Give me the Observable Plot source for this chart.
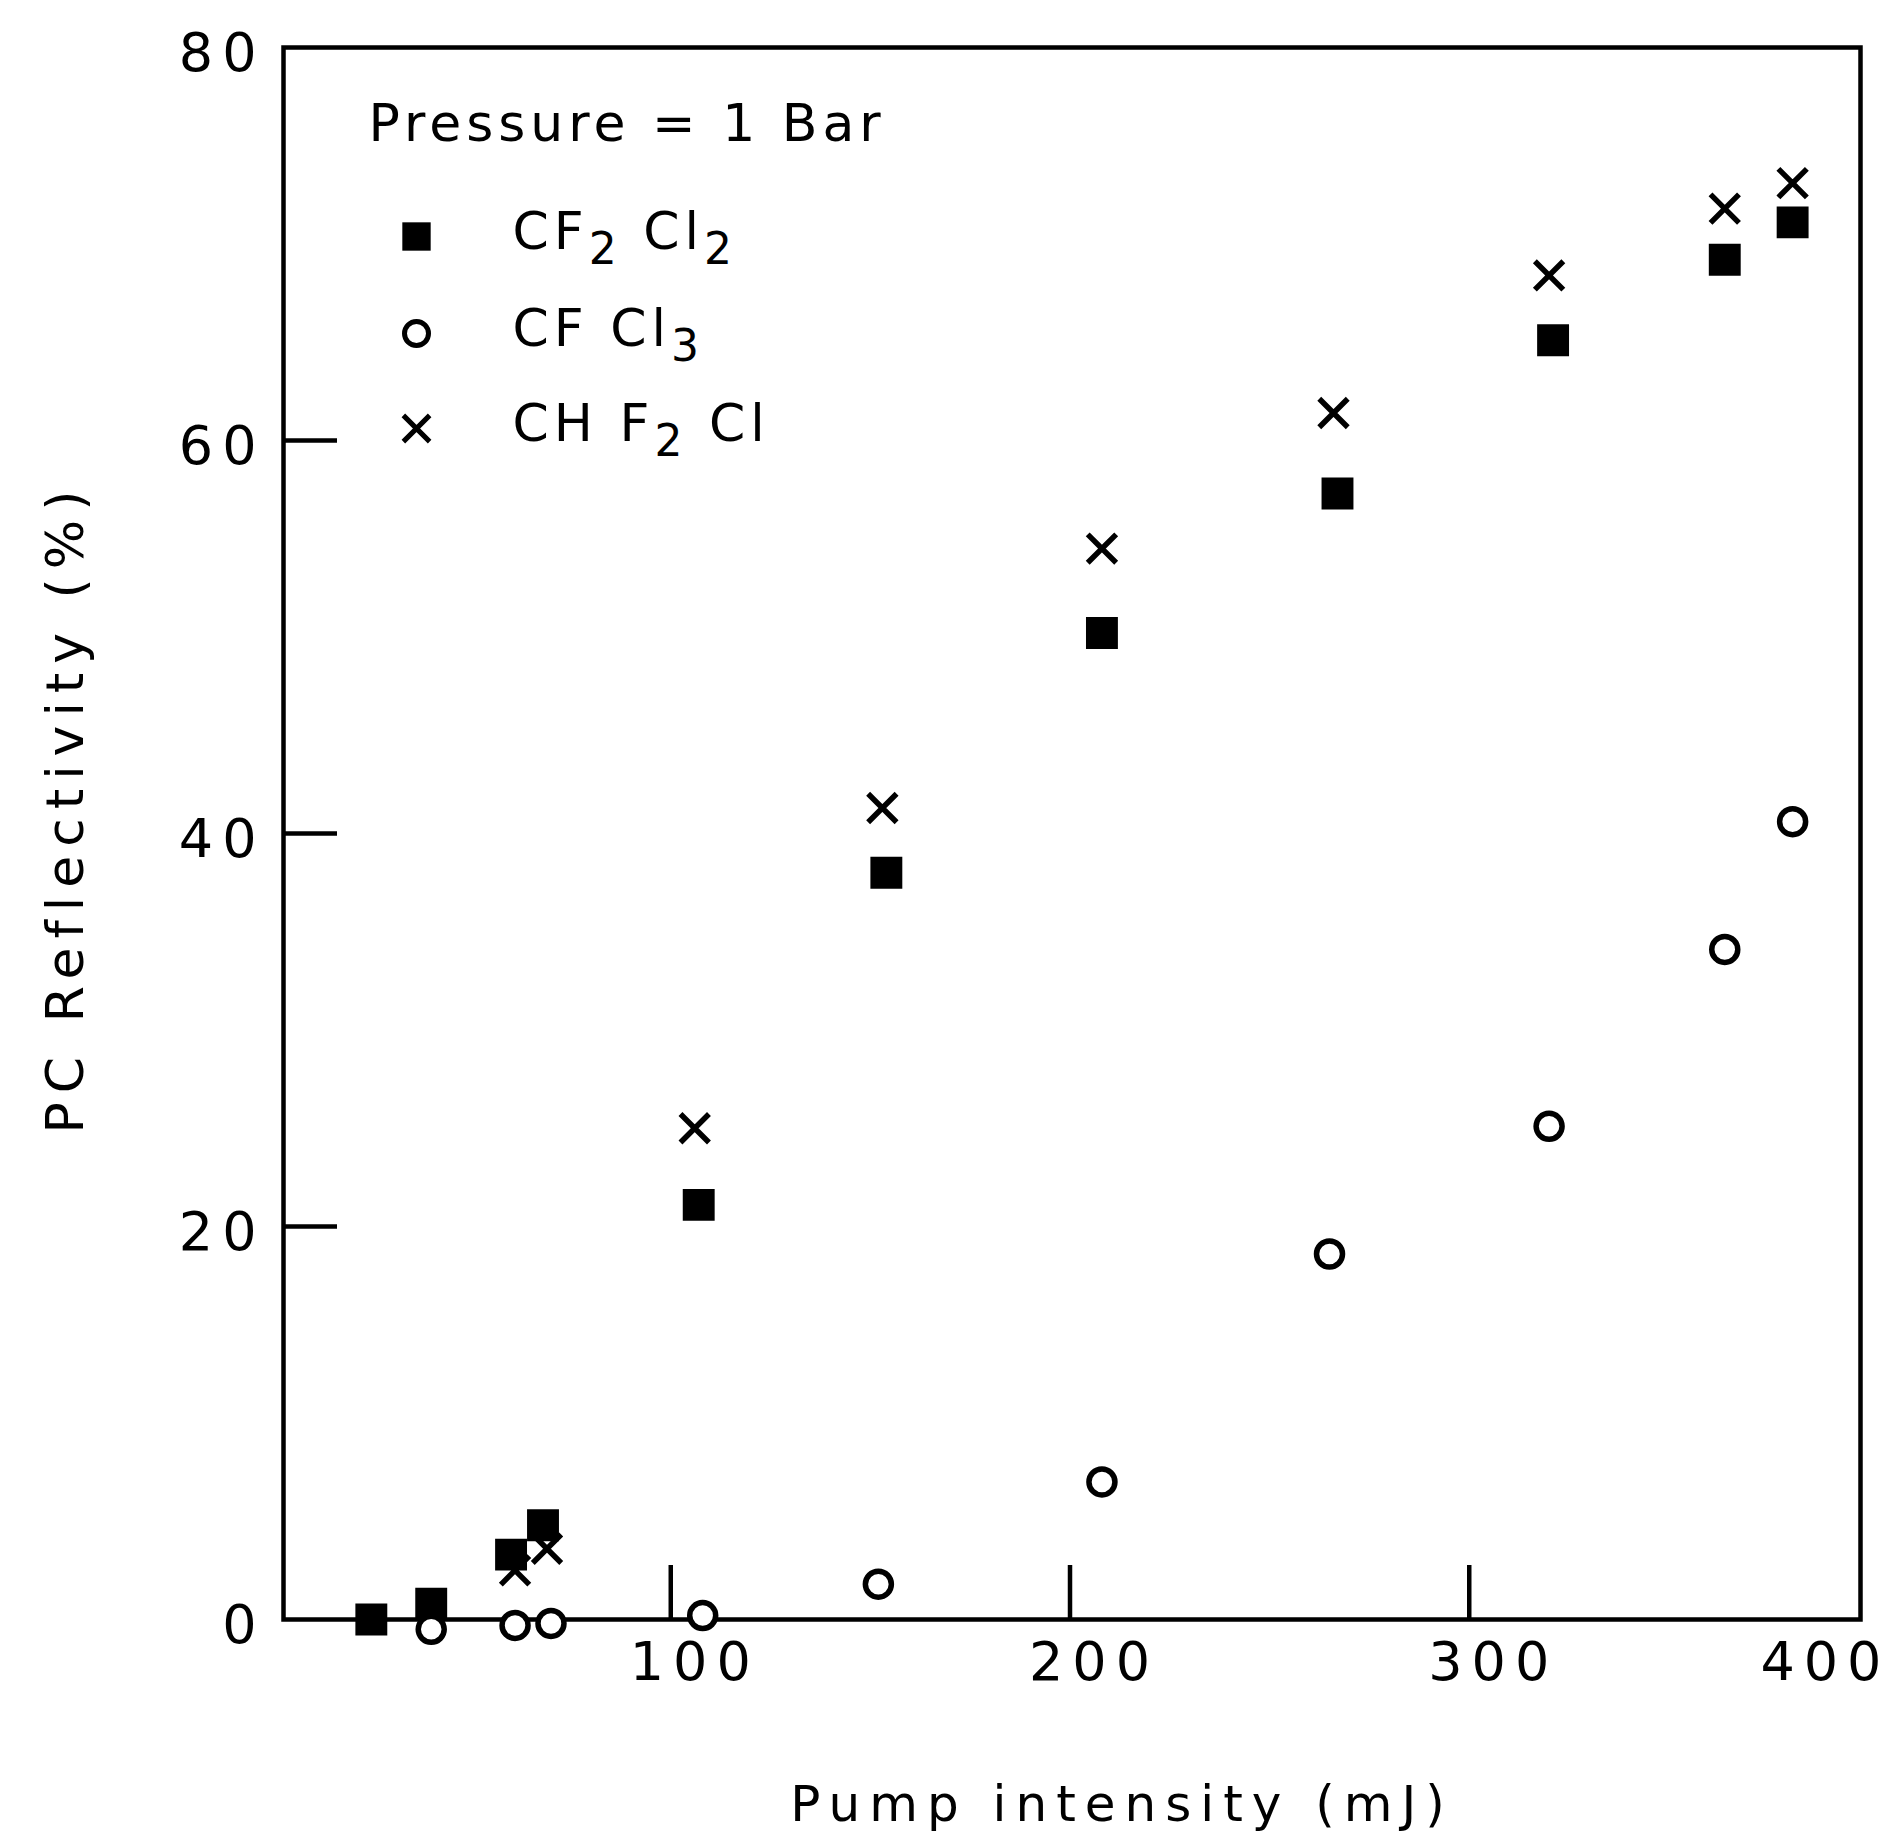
<!DOCTYPE html>
<html>
<head>
<meta charset="utf-8">
<script src="https://cdn.jsdelivr.net/npm/d3@7"></script>
<script src="https://cdn.jsdelivr.net/npm/@observablehq/plot@0.6"></script>
<style>
  body { margin: 0; background: #fff; }
  #chart svg text { letter-spacing: 9px; }
</style>
</head>
<body>
<div id="chart"></div>
<script>
// Pump intensity (mJ) and PC reflectivity (%) per gas
const pumpCF2Cl2 = [25, 40, 60, 68, 107, 154, 208, 267, 321, 364, 381];
const reflCF2Cl2 = [0, 0.8, 3.3, 4.8, 21.1, 38.0, 50.2, 57.3, 65.1, 69.2, 71.1];
const pumpCFCl3 = [40, 61, 70, 108, 152, 208, 265, 320, 364, 381];
const reflCFCl3 = [-0.5, -0.3, -0.2, 0.2, 1.8, 7.0, 18.6, 25.1, 34.1, 40.6];
const pumpCHF2Cl = [61, 69, 106, 153, 208, 266, 320, 364, 381];
const reflCHF2Cl = [2.5, 3.6, 25.0, 41.3, 54.5, 61.4, 68.4, 71.8, 73.1];

const xTicks = [100, 200, 300];
const xEdgeTicks = [400];
const yTicks = [20, 40, 60];
const yTickLabels = [0, 20, 40, 60, 80];

const legendTitle = "Pressure = 1 Bar";
const seriesNames = ["CF₂ Cl₂", "CF Cl₃", "CH F₂ Cl"];
const xTitle = "Pump intensity (mJ)";
const yTitle = "PC Reflectivity (%)";

const toRows = (xs, ys) => xs.map((p, i) => ({pump: p, refl: ys[i]}));
const cf2cl2 = toRows(pumpCF2Cl2, reflCF2Cl2);
const cfcl3 = toRows(pumpCFCl3, reflCFCl3);
const chf2cl = toRows(pumpCHF2Cl, reflCHF2Cl);

const W = 1889, H = 1833;
const mL = 283, mR = 29, mT = 47, mB = 214;
const plotW = W - mL - mR, plotH = H - mT - mB;
const tickLen = 54;

const legendSymbols = [
  {symbol: "square", r: 16, fill: "black", stroke: "none", strokeWidth: 0},
  {symbol: "circle", r: 12, fill: "white", stroke: "black", strokeWidth: 5},
  {symbol: "times", r: 12, fill: "none", stroke: "black", strokeWidth: 5}
];
const legendRowDy = [189, 286, 381];

const legendMarks = [];
seriesNames.forEach((name, i) => {
  const s = legendSymbols[i];
  legendMarks.push(Plot.dot([name], {frameAnchor: "top-left", dx: 133, dy: legendRowDy[i], symbol: s.symbol, r: s.r, fill: s.fill, stroke: s.stroke, strokeWidth: s.strokeWidth}));
  legendMarks.push(Plot.text([name], {frameAnchor: "top-left", text: d => d, dx: 229, dy: legendRowDy[i] - 4, textAnchor: "start", lineAnchor: "middle", fontSize: 52}));
});

const chart = Plot.plot({
  width: W,
  height: H,
  marginLeft: mL,
  marginRight: mR,
  marginTop: mT,
  marginBottom: mB,
  x: {domain: [3, 398]},
  y: {domain: [0, 80]},
  style: {fontFamily: "DejaVu Sans", fontSize: "54px", color: "black", background: "white", overflow: "visible"},
  marks: [
    Plot.frame({stroke: "black", strokeWidth: 4.5}),
    Plot.tickX(xTicks, {insetTop: plotH - tickLen, stroke: "black", strokeWidth: 4.5}),
    Plot.tickY(yTicks, {insetRight: plotW - tickLen, stroke: "black", strokeWidth: 4.5}),
    Plot.axisX(xTicks, {tickSize: 0, tickPadding: 22, dx: 24, fontSize: 54, label: null}),
    Plot.axisX(xEdgeTicks, {tickSize: 0, tickPadding: 22, dx: 22, textAnchor: "end", fontSize: 54, label: null}),
    Plot.axisY(yTickLabels, {tickSize: 0, tickPadding: 18, dy: 6, fontSize: 54, label: null}),
    Plot.text([yTitle], {frameAnchor: "left", text: d => d, rotate: -90, textAnchor: "middle", lineAnchor: "middle", dx: -217, dy: -26, fontSize: 52}),
    Plot.text([xTitle], {frameAnchor: "bottom", text: d => d, textAnchor: "middle", lineAnchor: "middle", dx: 50, dy: 185, fontSize: 50}),
    Plot.text([legendTitle], {frameAnchor: "top-left", text: d => d, dx: 85, dy: 77, textAnchor: "start", lineAnchor: "middle", fontSize: 52}),
    ...legendMarks,
    Plot.dot(chf2cl, {x: "pump", y: "refl", symbol: "times", r: 13, stroke: "black", strokeWidth: 5.5, fill: "none"}),
    Plot.dot(cf2cl2, {x: "pump", y: "refl", symbol: "square", r: 18, fill: "black"}),
    Plot.dot(cfcl3, {x: "pump", y: "refl", symbol: "circle", r: 13, stroke: "black", strokeWidth: 5.5, fill: "white"})
  ]
});

document.getElementById("chart").appendChild(chart);

// Render chemical subscripts as lowered, smaller digits
const subMap = {"₂": "2", "₃": "3"};
d3.select(chart).selectAll("text").each(function() {
  const t = this.textContent;
  if (t === legendTitle) this.style.letterSpacing = "5px";
  if (!seriesNames.includes(t)) return;
  this.style.letterSpacing = "5px";
  const el = d3.select(this);
  el.text(null);
  let lowered = false;
  for (const ch of t) {
    if (subMap[ch]) {
      el.append("tspan").attr("dy", lowered ? null : "15px").attr("font-size", "44px").text(subMap[ch]);
      lowered = true;
    } else {
      el.append("tspan").attr("dy", lowered ? "-15px" : null).text(ch);
      lowered = false;
    }
  }
});
</script>
</body>
</html>
